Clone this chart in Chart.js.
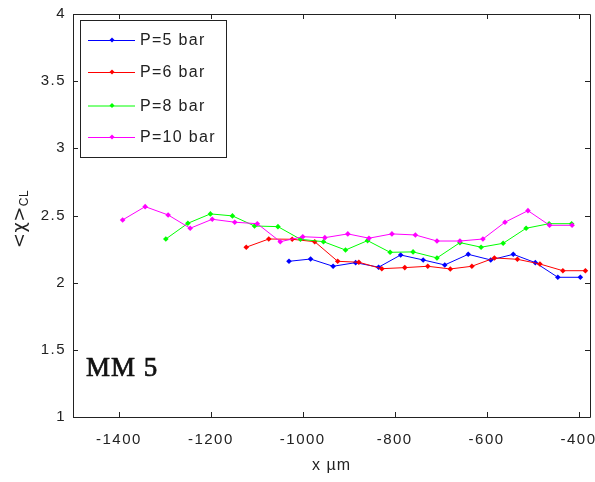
<!DOCTYPE html>
<html>
<head>
<meta charset="utf-8">
<script src="https://cdn.jsdelivr.net/npm/chart.js@4"></script>
<style>
html,body{margin:0;padding:0;background:#fff;}
#wrap{width:595px;height:482px;position:relative;}
</style>
</head>
<body>
<div id="wrap"><canvas id="c" width="595" height="482"></canvas></div>
<script>
// ---- data ----
const seriesLabels = ["P=5 bar", "P=6 bar", "P=8 bar", "P=10 bar"];
const seriesColors = ["#0000ff", "#ff0000", "#00ff00", "#ff00ff"];

const xP5 = [-1030, -983, -934, -885, -835, -787, -738, -691, -640, -591, -542, -494, -445, -396];
const yP5 = [2.159, 2.176, 2.122, 2.149, 2.115, 2.206, 2.169, 2.132, 2.211, 2.169, 2.211, 2.149, 2.040, 2.040];

const xP6 = [-1123, -1074, -1023, -974, -924, -878, -828, -778, -728, -679, -632, -583, -533, -484, -434, -385];
const yP6 = [2.264, 2.325, 2.323, 2.305, 2.159, 2.152, 2.104, 2.112, 2.122, 2.102, 2.122, 2.184, 2.174, 2.139, 2.089, 2.089];

const xP8 = [-1298, -1250, -1201, -1153, -1105, -1054, -1005, -955, -907, -859, -810, -760, -708, -658, -612, -564, -514, -464, -415];
const yP8 = [2.325, 2.442, 2.512, 2.497, 2.422, 2.417, 2.323, 2.305, 2.243, 2.313, 2.226, 2.229, 2.184, 2.298, 2.264, 2.293, 2.405, 2.439, 2.439];

const xP10 = [-1392, -1343, -1293, -1245, -1197, -1148, -1099, -1049, -1000, -952, -902, -856, -806, -755, -708, -658, -608, -560, -510, -463, -414];
const yP10 = [2.467, 2.566, 2.504, 2.405, 2.472, 2.450, 2.439, 2.305, 2.342, 2.335, 2.363, 2.331, 2.363, 2.355, 2.310, 2.310, 2.325, 2.450, 2.536, 2.427, 2.427];

const xTicks = [-1400, -1200, -1000, -800, -600, -400];
const yTicks = [1, 1.5, 2, 2.5, 3, 3.5, 4];
const xRange = [-1500, -375];
const yRange = [1, 4];

const xTitle = "x \u00b5m";
const yTitleMain = "<\u03c7>";
const yTitleSub = "CL";
const annotationText = "MM 5";

// ---- build chart ----
const xs = [xP5, xP6, xP8, xP10];
const ys = [yP5, yP6, yP8, yP10];
const datasets = seriesLabels.map((lab, i) => ({
  label: lab,
  data: xs[i].map((x, j) => ({x: x, y: ys[i][j]})),
  borderColor: seriesColors[i],
  backgroundColor: seriesColors[i],
  borderWidth: 1,
  pointStyle: 'rectRot',
  pointRadius: 2.8,
  pointBorderWidth: 0,
  pointHoverRadius: 2.8,
  tension: 0,
  order: 4 - i
}));

const AXC = '#222';

const framePlugin = {
  id: 'frame',
  beforeDraw(chart) {
    chart.ctx.letterSpacing = '1.5px';
  },
  afterDraw(chart) {
    const ctx = chart.ctx;
    const a = chart.chartArea;
    const sx = chart.scales.x, sy = chart.scales.y;
    ctx.save();
    ctx.letterSpacing = '0px';
    ctx.strokeStyle = AXC;
    ctx.lineWidth = 1;
    ctx.beginPath();
    ctx.rect(Math.round(a.left) + 0.5, Math.round(a.top) + 0.5, Math.round(a.right - a.left), Math.round(a.bottom - a.top));
    ctx.stroke();
    const tl = 5;
    ctx.beginPath();
    xTicks.forEach(v => {
      const px = Math.round(sx.getPixelForValue(v)) + 0.5;
      ctx.moveTo(px, a.bottom); ctx.lineTo(px, a.bottom - tl);
      ctx.moveTo(px, a.top); ctx.lineTo(px, a.top + tl);
    });
    yTicks.forEach(v => {
      const py = Math.round(sy.getPixelForValue(v)) + 0.5;
      ctx.moveTo(a.left, py); ctx.lineTo(a.left + tl, py);
      ctx.moveTo(a.right, py); ctx.lineTo(a.right - tl, py);
    });
    ctx.stroke();

    // x title
    ctx.fillStyle = AXC;
    ctx.font = '16px "Liberation Sans", Arial, sans-serif';
    ctx.letterSpacing = '1px';
    ctx.textAlign = 'center';
    ctx.textBaseline = 'middle';
    ctx.fillText(xTitle, (a.left + a.right) / 2, 466);

    // y title (rotated)
    ctx.save();
    ctx.translate(20, 219);
    ctx.rotate(-Math.PI / 2);
    ctx.textAlign = 'left';
    ctx.textBaseline = 'middle';
    ctx.font = '18px "DejaVu Sans", "Liberation Sans", sans-serif';
    ctx.letterSpacing = '0.5px';
    const w1 = ctx.measureText(yTitleMain).width;
    ctx.font = '12px "Liberation Sans", Arial, sans-serif';
    const w2 = ctx.measureText(yTitleSub).width;
    const start = -(w1 + w2) / 2;
    ctx.font = '18px "DejaVu Sans", "Liberation Sans", sans-serif';
    ctx.fillText(yTitleMain, start, 0);
    ctx.font = '12px "Liberation Sans", Arial, sans-serif';
    ctx.fillText(yTitleSub, start + w1, 5);
    ctx.restore();

    // annotation
    ctx.letterSpacing = '1px';
    ctx.font = '27px "Liberation Serif", "DejaVu Serif", serif';
    ctx.textAlign = 'left';
    ctx.textBaseline = 'alphabetic';
    ctx.fillStyle = '#111';
    ctx.strokeStyle = '#111';
    ctx.lineWidth = 0.7;
    ctx.fillText(annotationText, 86, 376);
    ctx.strokeText(annotationText, 86, 376);

    // legend
    const lx = 80.5, ly = 20.5, lw = 146, lh = 137;
    ctx.fillStyle = '#fff';
    ctx.fillRect(lx, ly, lw, lh);
    ctx.strokeStyle = AXC;
    ctx.lineWidth = 1;
    ctx.strokeRect(lx, ly, lw, lh);
    const rows = [40, 72, 105.5, 137];
    ctx.font = '16px "Liberation Sans", Arial, sans-serif';
    ctx.letterSpacing = '1.3px';
    ctx.textBaseline = 'middle';
    chart.data.datasets.forEach((ds, i) => {
      const y = rows[i];
      ctx.strokeStyle = ds.borderColor;
      ctx.lineWidth = 1;
      ctx.beginPath();
      ctx.moveTo(88, y + 0.5); ctx.lineTo(135, y + 0.5);
      ctx.stroke();
      ctx.fillStyle = ds.borderColor;
      ctx.beginPath();
      ctx.moveTo(112, y - 2.5); ctx.lineTo(114.5, y); ctx.lineTo(112, y + 2.5); ctx.lineTo(109.5, y);
      ctx.closePath(); ctx.fill();
      ctx.fillStyle = AXC;
      ctx.fillText(ds.label, 140, y + 1);
    });
    ctx.restore();
  }
};

new Chart(document.getElementById('c'), {
  type: 'line',
  data: { datasets: datasets },
  options: {
    responsive: false,
    animation: false,
    devicePixelRatio: 1,
    layout: { padding: { left: 0, top: 14, right: 5, bottom: 0 } },
    plugins: { legend: { display: false }, tooltip: { enabled: false } },
    scales: {
      x: {
        type: 'linear',
        min: xRange[0], max: xRange[1],
        afterBuildTicks: s => { s.ticks = xTicks.map(v => ({value: v})); },
        afterFit: s => { s.height = 65; s.paddingLeft = 0; s.paddingRight = 0; },
        grid: { display: false, drawTicks: false },
        border: { display: false },
        ticks: { color: AXC, font: { family: '"Liberation Sans", Arial, sans-serif', size: 15 }, padding: 14, maxRotation: 0, autoSkip: false,
                 callback: v => String(v) }
      },
      y: {
        type: 'linear',
        min: yRange[0], max: yRange[1],
        afterBuildTicks: s => { s.ticks = yTicks.map(v => ({value: v})); },
        afterFit: s => { s.width = 73; s.paddingTop = 0; s.paddingBottom = 0; },
        grid: { display: false, drawTicks: false },
        border: { display: false },
        ticks: { color: AXC, font: { family: '"Liberation Sans", Arial, sans-serif', size: 15 }, padding: 7, autoSkip: false,
                 callback: v => String(v) }
      }
    }
  },
  plugins: [framePlugin]
});
</script>
</body>
</html>
